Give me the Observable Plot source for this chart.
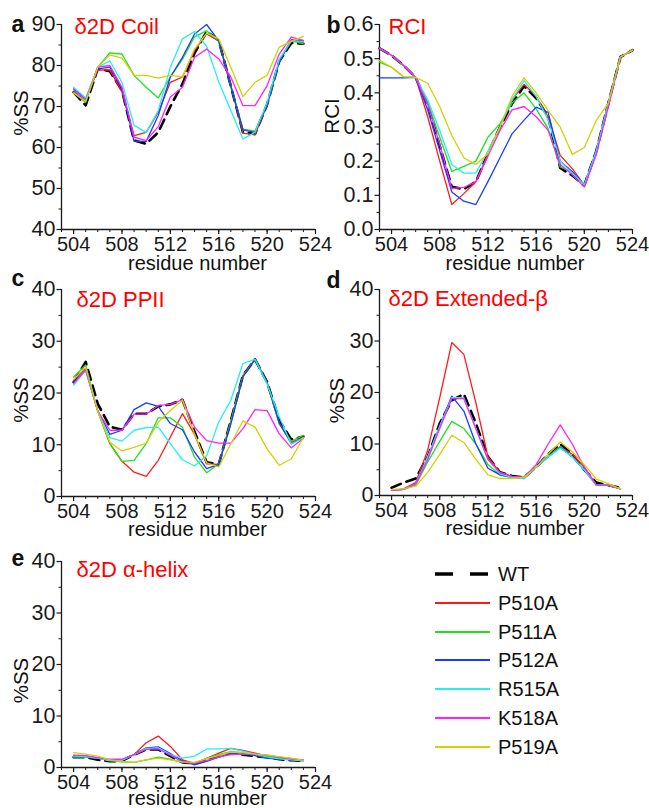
<!DOCTYPE html>
<html>
<head>
<meta charset="utf-8">
<script src="https://cdn.jsdelivr.net/npm/d3@7"></script>
<script src="https://cdn.jsdelivr.net/npm/@observablehq/plot@0.6"></script>
<style>
  html, body { margin: 0; padding: 0; background: #fff; }
  #chart { position: relative; width: 649px; height: 808px; overflow: hidden; font-family: "Liberation Sans", Arial, Helvetica, sans-serif; }
  #chart > .panel { position: absolute; }
</style>
</head>
<body>
<div id="chart"></div>
<script>
// ---------- data ----------
const variants = ["WT", "P510A", "P511A", "P512A", "R515A", "K518A", "P519A"];
const variantColors = ["#000000", "#ff1a1a", "#1ee01e", "#1a3cff", "#22f0f0", "#ff22ff", "#d2d200"];

const residues = [504, 505, 506, 507, 508, 509, 510, 511, 512, 513, 514, 515, 516, 517, 518, 519, 520, 521, 522, 523];
const rciResidues = [503, 504, 505, 506, 507, 508, 509, 510, 511, 512, 513, 514, 515, 516, 517, 518, 519, 520, 521, 522, 523, 524];
const xTickLabels = [504, 508, 512, 516, 520, 524];
const xMinorTicks = [503, 504, 505, 506, 507, 508, 509, 510, 511, 512, 513, 514, 515, 516, 517, 518, 519, 520, 521, 522, 523, 524];

// order of rows = variants order
const coilValues = [
  [73.5, 70.3, 79.2, 78.6, 73.9, 61.7, 60.9, 63.7, 70.0, 75.5, 83.0, 88.3, 86.1, 75.0, 63.7, 63.3, 70.5, 81.0, 85.5, 85.3],
  [73.5, 71.5, 78.9, 78.9, 73.5, 62.9, 63.7, 68.6, 75.9, 77.2, 83.7, 87.7, 86.0, 75.0, 63.5, 63.1, 70.5, 81.0, 86.3, 86.0],
  [73.5, 71.0, 79.6, 83.1, 82.8, 77.6, 74.7, 72.1, 77.2, 81.5, 87.0, 88.5, 86.0, 75.0, 64.5, 64.0, 70.5, 81.0, 86.0, 85.3],
  [74.3, 71.9, 79.2, 79.6, 74.3, 61.5, 61.5, 67.8, 77.2, 82.0, 87.7, 90.0, 86.0, 75.0, 64.3, 63.7, 70.5, 81.0, 86.0, 85.8],
  [74.7, 72.1, 79.6, 81.1, 75.9, 65.4, 63.7, 69.0, 79.6, 86.5, 88.3, 84.7, 76.0, 69.0, 62.1, 63.7, 71.0, 81.5, 86.0, 85.8],
  [74.1, 71.6, 79.6, 80.0, 74.7, 62.5, 61.7, 65.1, 72.3, 74.7, 82.0, 84.0, 81.6, 77.2, 70.2, 70.2, 75.1, 82.8, 86.9, 86.1],
  [73.3, 71.3, 79.6, 82.6, 81.8, 77.6, 77.6, 76.9, 77.6, 77.2, 84.0, 87.9, 86.5, 79.6, 72.4, 75.9, 77.6, 84.5, 85.9, 87.1]
];

const rciValues = [
  [0.530, 0.510, 0.480, 0.445, 0.365, 0.245, 0.125, 0.118, 0.140, 0.222, 0.300, 0.368, 0.420, 0.385, 0.330, 0.180, 0.158, 0.130, 0.230, 0.370, 0.505, 0.525],
  [0.530, 0.510, 0.480, 0.445, 0.330, 0.200, 0.073, 0.105, 0.140, 0.220, 0.300, 0.380, 0.425, 0.390, 0.330, 0.217, 0.178, 0.130, 0.230, 0.370, 0.505, 0.525],
  [0.490, 0.475, 0.447, 0.445, 0.373, 0.270, 0.170, 0.185, 0.200, 0.270, 0.310, 0.370, 0.400, 0.353, 0.295, 0.183, 0.168, 0.130, 0.230, 0.370, 0.505, 0.525],
  [0.444, 0.444, 0.444, 0.445, 0.350, 0.230, 0.110, 0.083, 0.073, 0.140, 0.210, 0.280, 0.320, 0.358, 0.343, 0.200, 0.170, 0.130, 0.230, 0.370, 0.505, 0.525],
  [0.530, 0.510, 0.480, 0.445, 0.380, 0.290, 0.190, 0.165, 0.165, 0.230, 0.300, 0.380, 0.436, 0.390, 0.320, 0.200, 0.165, 0.130, 0.230, 0.370, 0.505, 0.525],
  [0.530, 0.510, 0.480, 0.445, 0.365, 0.250, 0.120, 0.123, 0.140, 0.215, 0.290, 0.350, 0.360, 0.330, 0.290, 0.190, 0.160, 0.124, 0.220, 0.360, 0.505, 0.525],
  [0.495, 0.475, 0.447, 0.445, 0.428, 0.360, 0.275, 0.210, 0.190, 0.222, 0.300, 0.390, 0.444, 0.400, 0.348, 0.300, 0.220, 0.240, 0.320, 0.370, 0.505, 0.525]
];

const ppiiValues = [
  [22.1, 26.0, 17.9, 13.5, 12.9, 16.0, 16.0, 17.4, 17.8, 18.7, 12.5, 6.6, 6.2, 14.7, 23.4, 26.5, 22.1, 14.7, 11.0, 11.6],
  [22.5, 24.7, 16.5, 10.2, 6.8, 4.7, 3.9, 7.0, 11.5, 16.0, 12.0, 6.3, 6.2, 14.5, 23.4, 26.5, 22.0, 14.2, 10.5, 11.4],
  [23.1, 25.4, 16.5, 10.2, 6.8, 7.0, 10.2, 15.2, 15.2, 13.4, 7.6, 4.6, 6.3, 14.5, 23.3, 26.5, 22.0, 14.0, 10.7, 11.8],
  [22.1, 24.4, 16.5, 12.0, 12.8, 16.8, 18.1, 17.4, 14.1, 12.9, 8.6, 5.4, 6.2, 14.0, 23.1, 26.5, 22.0, 14.2, 10.2, 11.4],
  [21.5, 24.4, 16.3, 11.4, 10.7, 12.8, 13.3, 13.4, 10.2, 7.1, 5.9, 7.9, 14.4, 18.6, 25.7, 26.5, 21.8, 15.4, 10.1, 11.4],
  [21.8, 24.5, 16.5, 12.8, 12.8, 15.9, 15.9, 17.6, 17.8, 18.7, 13.4, 10.8, 10.3, 10.3, 13.1, 16.8, 16.6, 12.1, 9.4, 11.2],
  [22.6, 25.0, 16.5, 10.5, 8.8, 9.5, 10.3, 14.4, 16.6, 18.6, 12.1, 6.5, 5.7, 10.2, 14.6, 13.4, 9.2, 6.0, 7.3, 11.4]
];

const extendedValues = [
  [1.5, 2.5, 3.3, 7.5, 14.0, 18.5, 19.7, 14.0, 7.5, 4.5, 3.8, 3.5, 5.5, 8.0, 10.0, 8.0, 5.0, 2.5, 2.0, 1.5],
  [1.0, 1.3, 2.5, 8.8, 19.0, 29.7, 27.4, 18.0, 7.5, 4.5, 3.7, 3.5, 5.5, 7.5, 9.5, 8.0, 5.5, 2.0, 2.0, 1.3],
  [1.0, 1.2, 2.0, 6.5, 10.5, 14.4, 13.0, 10.0, 6.0, 4.0, 3.5, 3.5, 5.5, 7.5, 9.5, 7.5, 5.0, 2.0, 2.0, 1.3],
  [1.0, 1.2, 2.2, 7.5, 13.5, 19.3, 16.4, 10.0, 5.3, 4.0, 3.5, 3.3, 5.5, 7.5, 9.3, 7.5, 5.0, 2.0, 2.0, 1.3],
  [1.0, 1.2, 2.2, 7.5, 13.5, 19.0, 19.0, 13.0, 7.0, 4.2, 3.5, 3.3, 5.5, 7.5, 9.2, 7.5, 5.0, 2.0, 2.0, 1.3],
  [1.0, 1.2, 2.2, 7.0, 13.0, 18.8, 18.8, 13.0, 7.0, 4.5, 3.7, 3.5, 6.0, 10.0, 13.7, 10.0, 5.5, 2.0, 2.0, 1.3],
  [1.2, 1.3, 1.8, 4.5, 8.0, 11.7, 10.3, 7.0, 4.0, 3.3, 3.3, 3.5, 5.5, 8.0, 10.4, 8.5, 6.0, 3.2, 2.3, 1.3]
];

const helixValues = [
  [2.0, 2.0, 1.5, 1.2, 1.3, 2.5, 3.5, 3.5, 2.2, 1.0, 0.8, 1.5, 2.2, 2.8, 2.5, 2.2, 2.0, 1.6, 1.4, 1.3],
  [2.3, 2.2, 1.8, 1.4, 1.5, 2.5, 4.8, 6.1, 4.1, 1.5, 0.8, 1.8, 2.8, 3.7, 3.3, 2.8, 2.2, 1.8, 1.6, 1.4],
  [2.0, 2.0, 1.8, 1.4, 1.1, 1.0, 1.5, 2.0, 1.6, 1.0, 0.8, 1.8, 2.5, 3.1, 2.9, 2.5, 2.2, 1.9, 1.6, 1.4],
  [2.2, 2.1, 1.8, 1.4, 1.5, 2.5, 3.8, 4.0, 2.7, 1.3, 0.5, 1.2, 2.0, 2.8, 2.6, 2.3, 1.8, 1.7, 1.5, 1.3],
  [2.2, 2.1, 1.8, 1.3, 1.4, 2.5, 3.7, 3.8, 2.5, 1.8, 2.2, 3.6, 3.6, 3.7, 3.2, 2.6, 2.0, 1.7, 1.5, 1.3],
  [2.4, 2.3, 1.9, 1.6, 1.6, 2.5, 3.5, 3.6, 2.4, 1.1, 0.8, 1.4, 2.0, 2.5, 2.6, 2.6, 2.4, 2.0, 1.7, 1.5],
  [2.9, 2.6, 2.2, 1.5, 1.2, 1.0, 1.5, 1.8, 1.5, 1.1, 1.0, 1.7, 2.3, 3.0, 2.9, 2.6, 2.4, 2.1, 1.8, 1.4]
];

const pctTicks = [0, 10, 20, 30, 40];
const pctMinor = [5, 15, 25, 35];
const coilTicks = [40, 50, 60, 70, 80, 90];
const coilMinor = [45, 55, 65, 75, 85];
const rciTicks = [0, 0.1, 0.2, 0.3, 0.4, 0.5, 0.6];
const rciMinor = [0.05, 0.15, 0.25, 0.35, 0.45, 0.55];

// ---------- drawing ----------
const FONT = '"Liberation Sans", Arial, Helvetica, sans-serif';
const AXIS = "#1a1a1a";
const XTICKFONT = 20;
const YTICKFONT = 21.5;
const chart = document.getElementById("chart");

function drawPanel(cfg) {
  const rows = [];
  cfg.values.forEach((vals, i) => vals.forEach((v, j) => rows.push({residue: cfg.xs[j], value: v, variant: variants[i]})));
  const yd = cfg.yDomain;
  const plot = Plot.plot({
    width: cfg.width, height: cfg.height,
    marginLeft: cfg.mL, marginRight: cfg.mR, marginTop: cfg.mT, marginBottom: cfg.mB,
    style: {fontFamily: FONT, fontSize: "20px", background: "none", color: AXIS, overflow: "visible"},
    x: {domain: [503, 524]},
    y: {domain: yd},
    color: {domain: variants, range: variantColors},
    marks: [
      Plot.axisX({ticks: xMinorTicks, tickSize: 3, tickFormat: () => "", label: null, strokeWidth: 1}),
      Plot.axisX({ticks: xTickLabels, tickSize: 5, tickPadding: 2, tickFormat: d => String(d), label: null, strokeWidth: 1.2, fontSize: XTICKFONT}),
      Plot.axisY({ticks: cfg.yMinor, tickSize: 2.5, tickFormat: () => "", label: null, strokeWidth: 1}),
      Plot.axisY({ticks: cfg.yTicks, tickSize: 4.5, tickPadding: 1.5, tickFormat: cfg.yFmt, label: null, strokeWidth: 1.2, fontSize: YTICKFONT}),
      Plot.ruleX([503], {y1: yd[0], y2: yd[1], stroke: AXIS, strokeWidth: 1.3}),
      Plot.ruleY([yd[0]], {x1: 503, x2: 524, stroke: AXIS, strokeWidth: 1.3}),
      Plot.line(rows.filter(d => d.variant === "WT"), {x: "residue", y: "value", stroke: "variant", strokeWidth: 2.6, strokeDasharray: "10,6"}),
      Plot.line(rows.filter(d => d.variant !== "WT"), {x: "residue", y: "value", stroke: "variant", z: "variant", strokeWidth: 1.3}),
      Plot.text([cfg.letter], {text: d => d, frameAnchor: "top-left", dx: cfg.letterDx, dy: cfg.letterDy, textAnchor: "start", lineAnchor: "bottom", fontWeight: "bold", fontSize: 23, fill: "#111"}),
      Plot.text([cfg.title], {text: d => d, frameAnchor: "top-left", dx: cfg.titleDx, dy: cfg.titleDy, textAnchor: "start", lineAnchor: "bottom", fontSize: 22, fill: "#ff0000"}),
      Plot.text([cfg.yLabel], {text: d => d, frameAnchor: "left", dx: cfg.yLabelDx, dy: cfg.yLabelDy, rotate: -90, textAnchor: "middle", lineAnchor: "middle", fontSize: 20.5, fill: "#111"}),
      Plot.text(["residue number"], {text: d => d, frameAnchor: "bottom", dx: 9, dy: cfg.xLabelDy, textAnchor: "middle", lineAnchor: "bottom", fontSize: 20, fill: "#111"})
    ]
  });
  const wrap = document.createElement("div");
  wrap.className = "panel";
  wrap.style.left = cfg.left + "px";
  wrap.style.top = cfg.top + "px";
  wrap.appendChild(plot);
  chart.appendChild(wrap);
}

const fmtInt = d => String(d);
const fmtRci = d3.format(".1f");

drawPanel({left: 0, top: 0, width: 325, height: 276, mL: 61, mR: 10, mT: 24, mB: 47, xLabelDy: 40,
  xs: residues, values: coilValues, yDomain: [40, 90], yTicks: coilTicks, yMinor: coilMinor, yFmt: fmtInt,
  letter: "a", letterDx: -50, letterDy: 7, title: "δ2D Coil", titleDx: 13, titleDy: 9,
  yLabel: "%SS", yLabelDx: -40, yLabelDy: -14});

drawPanel({left: 320, top: 0, width: 329, height: 276, mL: 59, mR: 17, mT: 24, mB: 47, xLabelDy: 40,
  xs: rciResidues, values: rciValues, yDomain: [0, 0.6], yTicks: rciTicks, yMinor: rciMinor, yFmt: fmtRci,
  letter: "b", letterDx: -53, letterDy: 8, title: "RCI", titleDx: 9, titleDy: 9,
  yLabel: "RCI", yLabelDx: -47, yLabelDy: -11});

drawPanel({left: 0, top: 260, width: 325, height: 282, mL: 61, mR: 10, mT: 29, mB: 46, xLabelDy: 39,
  xs: residues, values: ppiiValues, yDomain: [0, 40], yTicks: pctTicks, yMinor: pctMinor, yFmt: fmtInt,
  letter: "c", letterDx: -50, letterDy: -4, title: "δ2D PPII", titleDx: 15, titleDy: 17,
  yLabel: "%SS", yLabelDx: -40, yLabelDy: 7});

drawPanel({left: 320, top: 260, width: 329, height: 282, mL: 59, mR: 17, mT: 29, mB: 47, xLabelDy: 39,
  xs: residues, values: extendedValues, yDomain: [0, 40], yTicks: pctTicks, yMinor: pctMinor, yFmt: fmtInt,
  letter: "d", letterDx: -53, letterDy: -2, title: "δ2D Extended-β", titleDx: 9, titleDy: 16,
  yLabel: "%SS", yLabelDx: -42, yLabelDy: 8});

drawPanel({left: 0, top: 532, width: 325, height: 276, mL: 61, mR: 10, mT: 29, mB: 41, xLabelDy: 37,
  xs: residues, values: helixValues, yDomain: [0, 40], yTicks: pctTicks, yMinor: pctMinor, yFmt: fmtInt,
  letter: "e", letterDx: -50, letterDy: 4, title: "δ2D α-helix", titleDx: 15, titleDy: 15,
  yLabel: "%SS", yLabelDx: -40, yLabelDy: 16});

// ---------- legend ----------
const legendWrap = document.createElement("div");
legendWrap.className = "panel";
legendWrap.style.left = "400px";
legendWrap.style.top = "555px";
chart.appendChild(legendWrap);
const lsvg = d3.select(legendWrap).append("svg").attr("width", 249).attr("height", 210)
  .style("font-family", FONT).style("display", "block");
const rowY = [19, 48, 77, 105, 134, 163, 192];
variants.forEach((v, i) => {
  lsvg.append("line").attr("x1", 35).attr("x2", 90).attr("y1", rowY[i]).attr("y2", rowY[i])
    .attr("stroke", variantColors[i])
    .attr("stroke-width", v === "WT" ? 3.6 : 2.2)
    .attr("stroke-dasharray", v === "WT" ? "18,17" : null);
  lsvg.append("text").attr("x", 98).attr("y", rowY[i]).attr("dy", "0.36em")
    .attr("font-size", 20).attr("fill", "#111").text(v);
});
</script>
</body>
</html>
